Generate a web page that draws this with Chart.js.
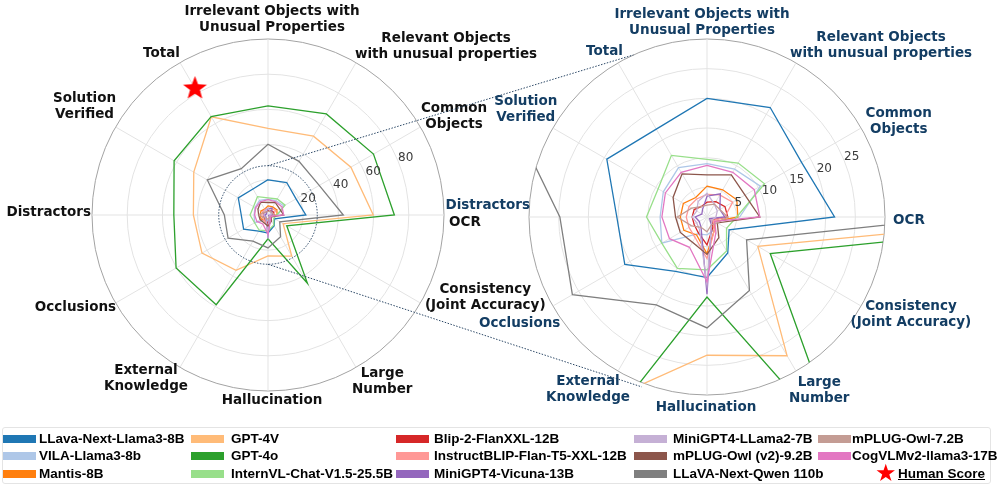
<!DOCTYPE html>
<html>
<head>
<meta charset="utf-8">
<script src="https://cdn.jsdelivr.net/npm/chart.js@4.4.1/dist/chart.umd.min.js"></script>
<style>
  body { margin: 0; background: #fff; width: 997px; height: 490px; overflow: hidden; position: relative; }
  canvas.radar { position: absolute; left: 0; top: 0; }
  #legend { position: absolute; left: 2px; top: 427px; width: 989px; height: 57px; border: 1px solid #e4e4e4; border-radius: 3px; box-sizing: border-box; }
  .item { position: absolute; font: bold 13.5px "Liberation Sans", Arial, sans-serif; color: #000; white-space: nowrap; line-height: 17px; height: 17px; }
  .sw { position: absolute; width: 33px; height: 8px; }
  .star { position: absolute; color: #ff0000; font: 24px "DejaVu Sans"; line-height: 24px; }
</style>
</head>
<body>
<canvas id="leftChart" class="radar" width="997" height="425"></canvas>
<canvas id="rightChart" class="radar" width="997" height="425"></canvas>
<div id="legend"></div>
<script>
// axes, clockwise from the top
const categoryLines = [
    ['Irrelevant Objects with', 'Unusual Properties'],
    ['Relevant Objects', 'with unusual properties'],
    ['Common', 'Objects'],
    ['OCR'],
    ['Consistency', '(Joint Accuracy)'],
    ['Large', 'Number'],
    ['Hallucination'],
    ['External', 'Knowledge'],
    ['Occlusions'],
    ['Distractors'],
    ['Solution', 'Verified'],
    ['Total']
];
const leftTicks = [20, 40, 60, 80];
const rightTicks = [5, 10, 15, 20, 25];
const leftMax = 100;
const rightMax = 30;
const zoomedRange = 28;

// scores per model, same order as categoryLines
const llavaLlama3 = [20.0, 21.3, 18.4, 21.5, 4.3, 7.0, 10.2, 10.6, 16.0, 15.2, 19.5, 17.1];
const vilaLlama3 = [9.0, 9.3, 10.4, 5.5, 1.5, 2.5, 3.0, 3.3, 8.8, 7.9, 8.5, 9.6];
const mantis8b = [5.2, 5.3, 5.8, 5.2, 1.5, 2.5, 6.2, 3.5, 4.5, 4.5, 4.6, 3.8];
const gpt4v = [49.2, 51.7, 54.4, 59.8, 9.9, 27.0, 23.3, 36.3, 43.3, 42.4, 48.7, 64.4];
const gpt4o = [62.0, 66.3, 69.2, 71.8, 12.3, 44.8, 13.5, 58.9, 60.3, 53.5, 61.6, 64.6];
const internvl = [9.7, 10.5, 11.2, 5.0, 3.8, 6.6, 8.9, 10.0, 8.8, 10.2, 9.5, 12.0];
const blip2 = [2.5, 3.0, 3.5, 3.5, 1.0, 2.0, 4.7, 3.0, 2.5, 2.5, 2.5, 2.0];
const instructBlip = [3.8, 4.3, 5.0, 3.0, 1.2, 2.5, 7.0, 4.0, 3.5, 3.5, 3.5, 3.5];
const minigptVicuna = [3.5, 4.5, 2.5, 3.0, 0.5, 1.5, 13.0, 2.0, 1.5, 2.0, 1.0, 1.5];
const minigptLlama2 = [4.0, 2.5, 2.0, 1.5, 1.0, 1.5, 11.5, 2.5, 2.0, 2.5, 2.0, 3.0];
const mplugOwl2 = [7.1, 8.2, 7.4, 8.9, 2.0, 4.0, 6.3, 4.9, 5.2, 5.3, 6.6, 8.4];
const qwen110b = [40.2, 35.2, 33.6, 42.8, 7.7, 14.3, 18.7, 17.1, 26.2, 24.8, 39.8, 30.4];
const mplugOwl = [2.0, 2.5, 2.5, 3.5, 2.0, 1.5, 2.5, 2.0, 3.0, 5.0, 3.0, 2.0];
const cogvlm2 = [8.7, 8.7, 9.2, 8.9, 1.5, 3.0, 10.9, 5.9, 7.3, 7.6, 8.1, 8.7];
const humanScore = [null, null, null, null, null, null, null, null, null, null, null, 83];

const models = [
    ['LLava-Next-Llama3-8B', llavaLlama3, '#1f77b4'],
    ['VILA-Llama3-8b', vilaLlama3, '#aec7e8'],
    ['Mantis-8B', mantis8b, '#ff7f0e'],
    ['GPT-4V', gpt4v, '#ffbb78'],
    ['GPT-4o', gpt4o, '#2ca02c'],
    ['InternVL-Chat-V1.5-25.5B', internvl, '#98df8a'],
    ['Blip-2-FlanXXL-12B', blip2, '#d62728'],
    ['InstructBLIP-Flan-T5-XXL-12B', instructBlip, '#ff9896'],
    ['MiniGPT4-Vicuna-13B', minigptVicuna, '#9467bd'],
    ['MiniGPT4-LLama2-7B', minigptLlama2, '#c5b0d5'],
    ['mPLUG-Owl (v2)-9.2B', mplugOwl2, '#8c564b'],
    ['LLaVA-Next-Qwen 110b', qwen110b, '#7f7f7f'],
    ['mPLUG-Owl-7.2B', mplugOwl, '#c49c94'],
    ['CogVLMv2-llama3-17B', cogvlm2, '#e377c2']
];

const makeStar = (outer, inner, color) => {
    const c = document.createElement('canvas');
    c.width = c.height = Math.ceil(outer * 2 + 2);
    const g = c.getContext('2d');
    const m = c.width / 2;
    g.beginPath();
    for (let k = 0; k < 10; k++) {
        const r = k % 2 ? inner : outer;
        const a = -Math.PI / 2 + k * Math.PI / 5;
        g.lineTo(m + r * Math.cos(a), m + r * Math.sin(a));
    }
    g.closePath();
    g.fillStyle = color;
    g.fill();
    return c;
};
const starImg = makeStar(12.5, 5.2, '#ff0000');

const buildDatasets = (withHuman) => {
    const sets = models.map(([name, values, color], i) => ({
        label: name,
        data: values,
        borderColor: color,
        backgroundColor: color,
        borderWidth: 1.3,
        fill: false,
        pointRadius: 0,
        order: models.length - i + 1,
    }));
    if (withHuman) {
        sets.push({
            label: 'Human Score',
            data: humanScore,
            showLine: false,
            pointStyle: starImg,
            pointRadius: 10,
            order: 0,
        });
    }
    return sets;
};

const categoryPlugin = (color, nudge) => ({
    id: 'categoryLabels',
    afterDraw(chart) {
        const s = chart.scales.r;
        const ctx = chart.ctx;
        ctx.save();
        ctx.font = 'bold 13.5px "DejaVu Sans"';
        ctx.fillStyle = color;
        ctx.textAlign = 'center';
        ctx.textBaseline = 'middle';
        categoryLines.forEach((lines, i) => {
            const p = s.getPointPosition(i, s.drawingArea + 4);
            const a = s.getIndexAngle(i);
            const dx = Math.sin(a), dy = -Math.cos(a);
            const w = Math.max(...lines.map(t => ctx.measureText(t).width));
            const h = lines.length * 16;
            let left = dx > 0.1 ? p.x : (dx < -0.1 ? p.x - w : p.x - w / 2);
            let top = dy < -0.1 ? p.y - h : (dy > 0.1 ? p.y : p.y - h / 2);
            left += nudge[i][0];
            top += nudge[i][1];
            lines.forEach((t, k) => ctx.fillText(t, left + w / 2, top + 16 * k + 8));
        });
        ctx.restore();
    }
});

const tickPlugin = (values) => ({
    id: 'rTicks',
    afterDatasetsDraw(chart) {
        const s = chart.scales.r;
        const ctx = chart.ctx;
        const ang = 22.5 * Math.PI / 180;
        ctx.save();
        ctx.font = '12px "DejaVu Sans"';
        ctx.fillStyle = '#3a3a3a';
        ctx.textAlign = 'left';
        ctx.textBaseline = 'alphabetic';
        values.forEach(v => {
            const d = s.getDistanceFromCenterForValue(v);
            ctx.fillText(String(v), s.xCenter + d * Math.cos(ang), s.yCenter - d * Math.sin(ang));
        });
        ctx.restore();
    }
});

const circleClip = {
    id: 'circleClip',
    beforeDatasetsDraw(chart) {
        const s = chart.scales.r;
        chart.ctx.save();
        chart.ctx.beginPath();
        chart.ctx.arc(s.xCenter, s.yCenter, s.drawingArea, 0, Math.PI * 2);
        chart.ctx.clip();
    },
    afterDatasetsDraw(chart) {
        chart.ctx.restore();
    }
};

const dotted = (ctx) => {
    ctx.strokeStyle = '#2c4866';
    ctx.lineWidth = 1;
    ctx.setLineDash([1.5, 1.5]);
};

const zoomCircle = {
    id: 'zoomCircle',
    afterDatasetsDraw(chart) {
        const s = chart.scales.r;
        const ctx = chart.ctx;
        ctx.save();
        dotted(ctx);
        ctx.beginPath();
        ctx.arc(s.xCenter, s.yCenter, s.getDistanceFromCenterForValue(zoomedRange), 0, Math.PI * 2);
        ctx.stroke();
        ctx.restore();
    }
};

let leftChart;
const zoomLines = {
    id: 'zoomLines',
    beforeDatasetsDraw(chart) {
        const sl = leftChart.scales.r;
        const sr = chart.scales.r;
        const rz = sl.getDistanceFromCenterForValue(zoomedRange);
        const ctx = chart.ctx;
        const ends = [[114.4, sr.drawingArea], [-111, sr.drawingArea + 4]];
        ctx.save();
        dotted(ctx);
        ends.forEach(([deg, r], k) => {
            const a = deg * Math.PI / 180;
            ctx.beginPath();
            ctx.moveTo(sl.xCenter, sl.yCenter + (k === 0 ? -rz : rz));
            ctx.lineTo(sr.xCenter + r * Math.cos(a), sr.yCenter - r * Math.sin(a));
            ctx.stroke();
        });
        ctx.restore();
    }
};

const radarOptions = (max, step, padding) => ({
    responsive: false,
    animation: false,
    layout: { padding },
    plugins: { legend: { display: false }, tooltip: { enabled: false } },
    elements: { line: { tension: 0 } },
    scales: {
        r: {
            min: 0,
            max,
            ticks: { stepSize: step, display: false },
            pointLabels: { display: false },
            grid: {
                circular: true,
                color: (c) => (c.tick && c.tick.value === max ? '#a3a3a3' : '#e3e3e3'),
                lineWidth: 1,
            },
            angleLines: { color: '#e3e3e3', lineWidth: 1 },
        },
    },
});

leftChart = new Chart(document.querySelector('#leftChart'), {
    type: 'radar',
    data: { labels: categoryLines.map(l => l.join(' ')), datasets: buildDatasets(true) },
    options: radarOptions(leftMax, 20, { left: 92, top: 39, right: 553, bottom: 34 }),
    plugins: [zoomCircle, tickPlugin(leftTicks), categoryPlugin('#111111',
        [[4, 0], [-3, 3], [-3, 7], [1, 7], [1, -24], [-6, -5], [4, -3], [10, -8], [4, -6], [3, -3], [4, -3], [2, 2]])],
});

const rightChart = new Chart(document.querySelector('#rightChart'), {
    type: 'radar',
    data: { labels: categoryLines.map(l => l.join(' ')), datasets: buildDatasets(false) },
    options: radarOptions(rightMax, 5, { left: 529, top: 39, right: 112, bottom: 30 }),
    plugins: [zoomLines, circleClip, tickPlugin(rightTicks), categoryPlugin('#133d63',
        [[-5, 3], [-8, 2], [1, 11], [4, 3], [-14, -10], [-9, 0], [-1, 0], [14, -1], [11, 7], [5, -12], [8, -1], [7, 0]])],
});

// legend, three rows filled column by column
const legendSwatchX = [0, 188, 393, 631, 815];
const legendTextX = [36, 228, 431, 670, 849];
const legendRowY = [2, 19, 37];
const legend = document.querySelector('#legend');
models.forEach(([name, , color], i) => {
    const col = Math.floor(i / 3), row = i % 3;
    const sw = document.createElement('div');
    sw.className = 'sw';
    sw.style.left = legendSwatchX[col] + 'px';
    sw.style.top = (legendRowY[row] + 4.5) + 'px';
    sw.style.background = color;
    legend.appendChild(sw);
    const tx = document.createElement('div');
    tx.className = 'item';
    tx.style.left = legendTextX[col] + 'px';
    tx.style.top = legendRowY[row] + 'px';
    tx.textContent = name;
    legend.appendChild(tx);
});
const star = document.createElement('div');
star.className = 'star';
star.textContent = '\u2605';
star.style.left = '872px';
star.style.top = (legendRowY[2] - 4) + 'px';
legend.appendChild(star);
const human = document.createElement('div');
human.className = 'item';
human.style.left = '895px';
human.style.top = legendRowY[2] + 'px';
human.style.textDecoration = 'underline';
human.textContent = 'Human Score';
legend.appendChild(human);
</script>
</body>
</html>
